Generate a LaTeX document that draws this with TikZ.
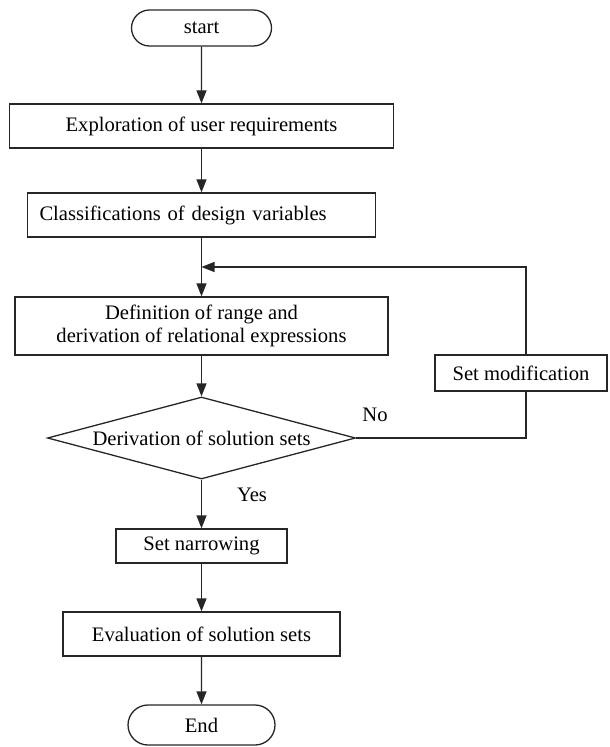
\documentclass[tikz,border=0pt]{standalone}
\usepackage{fontspec}
\setmainfont{Liberation Serif}
\usetikzlibrary{shapes.misc,shapes.geometric,arrows.meta}

\tikzset{
  flow/.style={draw=black!85,line width=0.65pt},
  arr/.style={flow,-{Triangle[length=6.5pt,width=5pt]}},
  term/.style={flow,rounded rectangle,minimum width=70pt,minimum height=18pt,inner sep=0pt},
  proc/.style={flow,rectangle,minimum height=22pt,inner sep=0pt,align=center},
  decis/.style={flow,diamond,aspect=3.76,minimum width=154pt,minimum height=41pt,inner sep=0pt},
}

\begin{document}
\begin{tikzpicture}[x=0.5pt,y=-0.5pt,font=\fontsize{10.3}{11.5}\selectfont]
    \useasboundingbox (0,0) rectangle (609,747);
    \node[term] (start) at (201.5,28) {start};
    \node[proc,minimum width=192pt] (explo) at (201.5,126) {Exploration of user requirements};
    \node[proc,text width=162pt,inner xsep=6pt,align=left] (classif) at (201.5,215) {Classifications of design variables};
    \node[proc,minimum width=186.5pt,minimum height=29pt] (defin) at (201.5,326) {Definition of range and\\derivation of relational expressions};
    \node[decis] (deriv) at (201.5,438) {Derivation of solution sets};
    \node[proc,minimum width=86pt,minimum height=18pt] (setmod) at (521,373) {Set modification};
    \node[proc,minimum width=85.5pt,minimum height=17pt] (narrow) at (201.5,546) {Set narrowing};
    \node[proc,minimum width=138.5pt] (evalu) at (201.5,634) {Evaluation of solution sets};
    \node[term,minimum width=73.5pt,minimum height=20pt] (finish) at (201.5,725) {End};
    \node (no) at (375,415) {No};
    \node (yes) at (252,495) {Yes};

    \coordinate (nocorner) at (526,438);
    \coordinate (topcorner) at (526,267);
    \coordinate (join) at (201.5,267);

    \draw[arr] (start) -- (explo);
    \draw[arr] (explo) -- (classif);
    \draw[arr] (classif) -- (defin);
    \draw[arr] (defin) -- (deriv);
    \draw[flow] (deriv.east) -- (nocorner) -- (nocorner |- setmod.south);
    \draw[arr] (nocorner |- setmod.north) -- (topcorner) -- (join);
    \draw[arr] (deriv) -- (narrow);
    \draw[arr] (narrow) -- (evalu);
    \draw[arr] (evalu) -- (finish);
\end{tikzpicture}
\end{document}
